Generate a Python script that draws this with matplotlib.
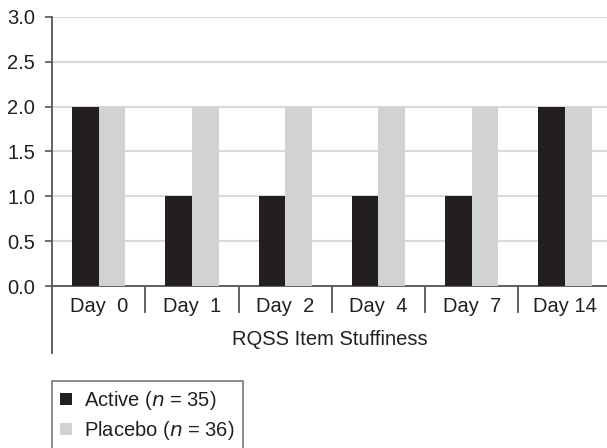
import numpy as np
import matplotlib
matplotlib.use('Agg')
import matplotlib.pyplot as plt
from matplotlib.patches import Patch
from matplotlib.transforms import blended_transform_factory

plt.rcParams['font.family'] = ['Liberation Sans', 'DejaVu Sans']

# data
days = ['Day  0', 'Day  1', 'Day  2', 'Day  4', 'Day  7', 'Day 14']
active = [2.0, 1.0, 1.0, 1.0, 1.0, 2.0]
placebo = [2.0, 2.0, 2.0, 2.0, 2.0, 2.0]
yticks = [0.0, 0.5, 1.0, 1.5, 2.0, 2.5, 3.0]

c_active = '#231f20'
c_placebo = '#d1d2d4'
c_axis = '#555555'
c_text = '#231f20'
fs = 14.5

W, H = 607, 448
fig = plt.figure(figsize=(W / 100, H / 100), dpi=100)
ax = fig.add_axes([52 / W, 1 - 286 / H, (607 - 52) / W, (286 - 17) / H])

x = np.arange(len(days))
bw = 0.285
ax.bar(x - bw / 2, active, width=bw, color=c_active, zorder=3)
ax.bar(x + bw / 2, placebo, width=bw, color=c_placebo, zorder=3)

ax.set_xlim(-0.5, 5.45)
ax.set_ylim(0, 3.0)
ax.set_yticks(yticks)
ax.set_yticklabels([f'{v:.1f}' for v in yticks], fontsize=fs, color=c_text)
ax.yaxis.grid(True, color='#d9d9d9', linewidth=1.5, zorder=0)
ax.tick_params(axis='y', length=5, width=1.2, color=c_axis, pad=7)

ax.set_xticks(x)
ax.set_xticklabels(days, fontsize=fs, color=c_text)
ax.tick_params(axis='x', length=0, pad=8)
ax.set_xlabel('RQSS Item Stuffiness', fontsize=fs, color=c_text, labelpad=10)

for s in ['top', 'right']:
    ax.spines[s].set_visible(False)
ax.spines['bottom'].set_color(c_axis)
ax.spines['bottom'].set_linewidth(1.3)
ax.spines['left'].set_visible(False)

# category separators and extended left axis line
tr = blended_transform_factory(ax.transData, ax.transAxes)
for b in np.arange(0.5, len(days) - 1, 1.0):
    ax.plot([b, b], [0, -26 / 269], transform=tr, color=c_axis, lw=1.3, clip_on=False)
ax.plot([-0.5, -0.5], [1, -67 / 269], transform=tr, color=c_axis, lw=1.3, clip_on=False, zorder=5)

handles = [Patch(facecolor=c_active, label='Active ($n$ = 35)'),
           Patch(facecolor=c_placebo, label='Placebo ($n$ = 36)')]
leg = fig.legend(handles=handles, loc='upper left', bbox_to_anchor=(52 / W, 1 - 381 / H),
                 fontsize=fs, frameon=True, fancybox=False, borderpad=0.4,
                 handlelength=0.6, handleheight=0.6, handletextpad=0.6, labelspacing=0.35,
                 borderaxespad=0)
for t in leg.get_texts():
    t.set_color(c_text)
leg.get_frame().set_edgecolor(c_axis)
leg.get_frame().set_linewidth(1.2)

fig.savefig('out.png', dpi=100)
